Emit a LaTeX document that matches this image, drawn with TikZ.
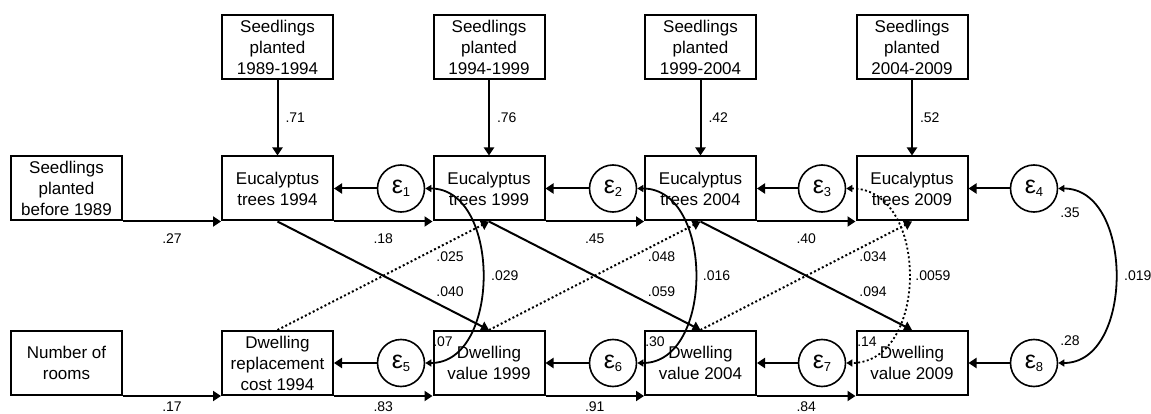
\documentclass[tikz,border=0pt]{standalone}
\usepackage{fontspec}
\setmainfont{Liberation Sans}
\usetikzlibrary{arrows.meta}
\newcommand{\epsl}[1]{ε\raisebox{-3pt}{\fontsize{13}{13}\selectfont #1}}
\begin{document}
\begin{tikzpicture}[x=1pt,y=-1pt,
  box/.style={draw, line width=2pt, rectangle, minimum width=111pt, minimum height=64pt, align=center, inner sep=0pt, font=\fontsize{17}{21}\selectfont},
  err/.style={draw, circle, line width=1.6pt, minimum size=47pt, inner sep=0pt, font=\fontsize{25}{25}\selectfont},
  arr/.style={line width=2pt, -{Triangle[length=8pt,width=10pt]}},
  dotarr/.style={line width=2pt, dash pattern=on 2pt off 2.4pt, -{Triangle[length=8pt,width=10pt]}},
  cov/.style={line width=1.8pt, {Triangle[length=6pt,width=7pt]}-{Triangle[length=6pt,width=7pt]}},
  dotcov/.style={cov, dash pattern=on 2pt off 2.4pt},
  lab/.style={font=\fontsize{14}{14}\selectfont, inner sep=0pt},
]
\useasboundingbox (0,0) rectangle (1151,414);
% top row
\node[box] (S1) at (277.5,47) {Seedlings\\planted\\1989-1994};
\node[box] (S2) at (489,47) {Seedlings\\planted\\1994-1999};
\node[box] (S3) at (700.5,47) {Seedlings\\planted\\1999-2004};
\node[box] (S4) at (912,47) {Seedlings\\planted\\2004-2009};
% middle row
\node[box] (S0) at (66.5,188.5) {Seedlings\\planted\\before 1989};
\node[box] (E1) at (277.5,188.5) {Eucalyptus\\trees 1994};
\node[box] (E2) at (489,188.5) {Eucalyptus\\trees 1999};
\node[box] (E3) at (700.5,188.5) {Eucalyptus\\trees 2004};
\node[box] (E4) at (912,188.5) {Eucalyptus\\trees 2009};
% bottom row
\node[box] (N0) at (66.5,363) {Number of\\rooms};
\node[box] (D1) at (277.5,363) {Dwelling\\replacement\\cost 1994};
\node[box] (D2) at (489,363) {Dwelling\\value 1999};
\node[box] (D3) at (700.5,363) {Dwelling\\value 2004};
\node[box] (D4) at (912,363) {Dwelling\\value 2009};
% error terms
\node[err] (e1) at (401,188.5) {\epsl{1}};
\node[err] (e2) at (613,188.5) {\epsl{2}};
\node[err] (e3) at (822,188.5) {\epsl{3}};
\node[err] (e4) at (1034,188.5) {\epsl{4}};
\node[err] (e5) at (401,363) {\epsl{5}};
\node[err] (e6) at (613,363) {\epsl{6}};
\node[err] (e7) at (822,363) {\epsl{7}};
\node[err] (e8) at (1034,363) {\epsl{8}};
% vertical arrows
\draw[arr] (S1.south) -- (E1.north) node[midway, right=7pt, lab] {.71};
\draw[arr] (S2.south) -- (E2.north) node[midway, right=7pt, lab] {.76};
\draw[arr] (S3.south) -- (E3.north) node[midway, right=7pt, lab] {.42};
\draw[arr] (S4.south) -- (E4.north) node[midway, right=7pt, lab] {.52};
% horizontal arrows
\draw[arr] (S0.south east) -- (E1.south west) node[midway, below=11pt, lab] {.27};
\draw[arr] (E1.south east) -- (E2.south west) node[midway, below=11pt, lab] {.18};
\draw[arr] (E2.south east) -- (E3.south west) node[midway, below=11pt, lab] {.45};
\draw[arr] (E3.south east) -- (E4.south west) node[midway, below=11pt, lab] {.40};
\draw[arr] (N0.south east) -- (D1.south west) node[midway, below=5pt, lab] {.17};
\draw[arr] (D1.south east) -- (D2.south west) node[midway, below=5pt, lab] {.83};
\draw[arr] (D2.south east) -- (D3.south west) node[midway, below=5pt, lab] {.91};
\draw[arr] (D3.south east) -- (D4.south west) node[midway, below=5pt, lab] {.84};
% error arrows
\draw[arr] (e1.west) -- (E1.east);
\draw[arr] (e2.west) -- (E2.east);
\draw[arr] (e3.west) -- (E3.east);
\draw[arr] (e4.west) -- (E4.east);
\draw[arr] (e5.west) -- (D1.east);
\draw[arr] (e6.west) -- (D2.east);
\draw[arr] (e7.west) -- (D3.east);
\draw[arr] (e8.west) -- (D4.east);
% diagonal arrows
\draw[arr] (E1.south) -- (D2.north) node[pos=.816, yshift=18.5pt, lab] {.040};
\draw[arr] (E2.south) -- (D3.north) node[pos=.816, yshift=18.5pt, lab] {.059};
\draw[arr] (E3.south) -- (D4.north) node[pos=.816, yshift=18.5pt, lab] {.094};
\draw[dotarr] (D1.north) -- (E2.south) node[pos=.816, yshift=-15.5pt, lab] {.025};
\draw[dotarr] (D2.north) -- (E3.south) node[pos=.816, yshift=-15.5pt, lab] {.048};
\draw[dotarr] (D3.north) -- (E4.south) node[pos=.816, yshift=-15.5pt, lab] {.034};
% covariances
\draw[cov] (e1.east) .. controls +(76,0) and +(76,0) .. (e5.east) node[midway, right=8pt, lab] {.029};
\draw[cov] (e2.east) .. controls +(77,0) and +(77,0) .. (e6.east) node[midway, right=7pt, lab] {.016};
\draw[dotcov] (e3.east) .. controls +(83,0) and +(83,0) .. (e7.east) node[midway, right=6pt, lab] {.0059};
\draw[cov] (e4.east) .. controls +(76,0) and +(76,0) .. (e8.east) node[midway, right=8pt, lab] {.019};
% variance labels
\node[lab] (v4) at ([shift={(36,24.5)}]e4) {.35};
\node[lab] (v8) at ([shift={(36,-22)}]e8) {.28};
\node[lab] (v5) at ([shift={(42,-21)}]e5) {.07};
\node[lab] (v6) at ([shift={(42,-21)}]e6) {.30};
\node[lab] (v7) at ([shift={(45,-21)}]e7) {.14};
\end{tikzpicture}
\end{document}
